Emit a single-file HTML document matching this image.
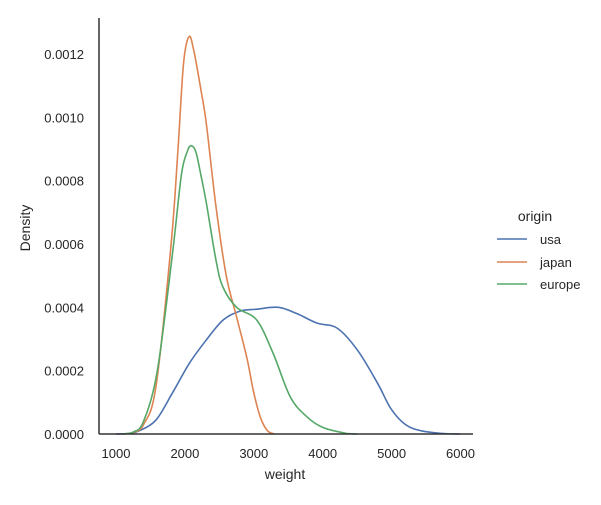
<!DOCTYPE html>
<html><head><meta charset="utf-8"><style>
body{margin:0;background:#fff;font-family:"Liberation Sans",sans-serif;}
svg text{font-family:"Liberation Sans",sans-serif;fill:#262626;}
</style></head><body>
<svg id="chart" width="601" height="500" viewBox="0 0 601 500" xmlns="http://www.w3.org/2000/svg">
<rect width="601" height="500" fill="#fff"/>
<g id="marks"></g>
<g id="axes"></g>
<text x="285" y="479" font-size="14" text-anchor="middle">weight</text>
<text transform="translate(30,228) rotate(-90)" font-size="14" text-anchor="middle">Density</text>
<g>
<text x="535" y="221" font-size="14" text-anchor="middle">origin</text>
<line x1="497" y1="239" x2="527" y2="239" stroke="#4c72b0" stroke-width="1.6"/>
<text x="540" y="244" font-size="13">usa</text>
<line x1="497" y1="262" x2="527" y2="262" stroke="#dd8452" stroke-width="1.6"/>
<text x="540" y="267" font-size="13">japan</text>
<line x1="497" y1="284" x2="527" y2="284" stroke="#55a868" stroke-width="1.6"/>
<text x="540" y="289" font-size="13">europe</text>
</g>
</svg>
<script>
const xTicks=[1000,2000,3000,4000,5000,6000];
const yTicks=[0,0.0002,0.0004,0.0006,0.0008,0.0010,0.0012];
const yTickLabels=["0.0000","0.0002","0.0004","0.0006","0.0008","0.0010","0.0012"];
const usaW=[1000,1200,1336,1580,1820,2067,2311,2555,2800,3042,3355,3627,3920,4212,4504,4797,4990,5200,5430,5720,6000];
const usaD=[0,0.000002,0.00001,0.000044,0.00013,0.000224,0.000297,0.00036,0.000388,0.000394,0.0004,0.00038,0.00035,0.000334,0.000265,0.00016,0.00008,0.00003,0.00001,0.000002,0];
const japanW=[1100,1250,1400,1580,1800,1900,1980,2060,2130,2230,2311,2450,2600,2750,2900,3000,3100,3200,3300];
const japanD=[0,0.000005,0.00003,0.00015,0.0006,0.0009,0.00117,0.001255,0.00121,0.00109,0.00098,0.00072,0.0005,0.00037,0.00024,0.00013,0.00005,0.00001,0];
const europeW=[1100,1250,1400,1600,1820,1950,2040,2096,2160,2230,2311,2450,2550,2750,3042,3280,3530,3773,4010,4340,4500];
const europeD=[0,0.000006,0.00004,0.0002,0.00057,0.00082,0.000895,0.00091,0.00089,0.00082,0.00073,0.00055,0.000465,0.0004,0.00036,0.000255,0.000117,0.000054,0.00002,0.000002,0];
const X=w=>116+(w-1000)*0.0689;
const Y=d=>434-d*316667;
const NS="http://www.w3.org/2000/svg";
const axes=document.getElementById('axes'), marks=document.getElementById('marks');
function el(t,a,p){const e=document.createElementNS(NS,t);for(const k in a)e.setAttribute(k,a[k]);p.appendChild(e);return e;}
const ls=el('line',{x1:99,y1:18,x2:99,y2:434,stroke:'#333',"stroke-width":1.5},axes);


const bs=el('line',{x1:99,y1:434,x2:473,y2:434,stroke:'#333',"stroke-width":1.5},axes);


xTicks.forEach(v=>{const t=el('text',{x:X(v),y:458,"font-size":13,"text-anchor":"middle"},axes);t.textContent=v;

});
yTicks.forEach((v,i)=>{const t=el('text',{x:84,y:Y(v)+5,"font-size":13,"text-anchor":"end"},axes);t.textContent=yTickLabels[i];

});
function path(ws,ds){const p=ws.map((w,i)=>[X(w),Y(ds[i])]);let s=`M${p[0][0]},${p[0][1]}`;
for(let i=0;i<p.length-1;i++){const p0=p[i-1]||p[i],p1=p[i],p2=p[i+1],p3=p[i+2]||p2;
const c1=[p1[0]+(p2[0]-p0[0])/6,p1[1]+(p2[1]-p0[1])/6],c2=[p2[0]-(p3[0]-p1[0])/6,p2[1]-(p3[1]-p1[1])/6];
c1[1]=Math.min(c1[1],434);c2[1]=Math.min(c2[1],434);
s+=` C${c1[0]},${c1[1]} ${c2[0]},${c2[1]} ${p2[0]},${p2[1]}`;}return s;}
[[usaW,usaD,'#4c72b0','usa'],[japanW,japanD,'#dd8452','japan'],[europeW,europeD,'#55a868','europe']].forEach(s=>{
const p=el('path',{d:path(s[0],s[1]),fill:'none',stroke:s[2],"stroke-width":1.6},marks);

});
</script>
</body></html>
